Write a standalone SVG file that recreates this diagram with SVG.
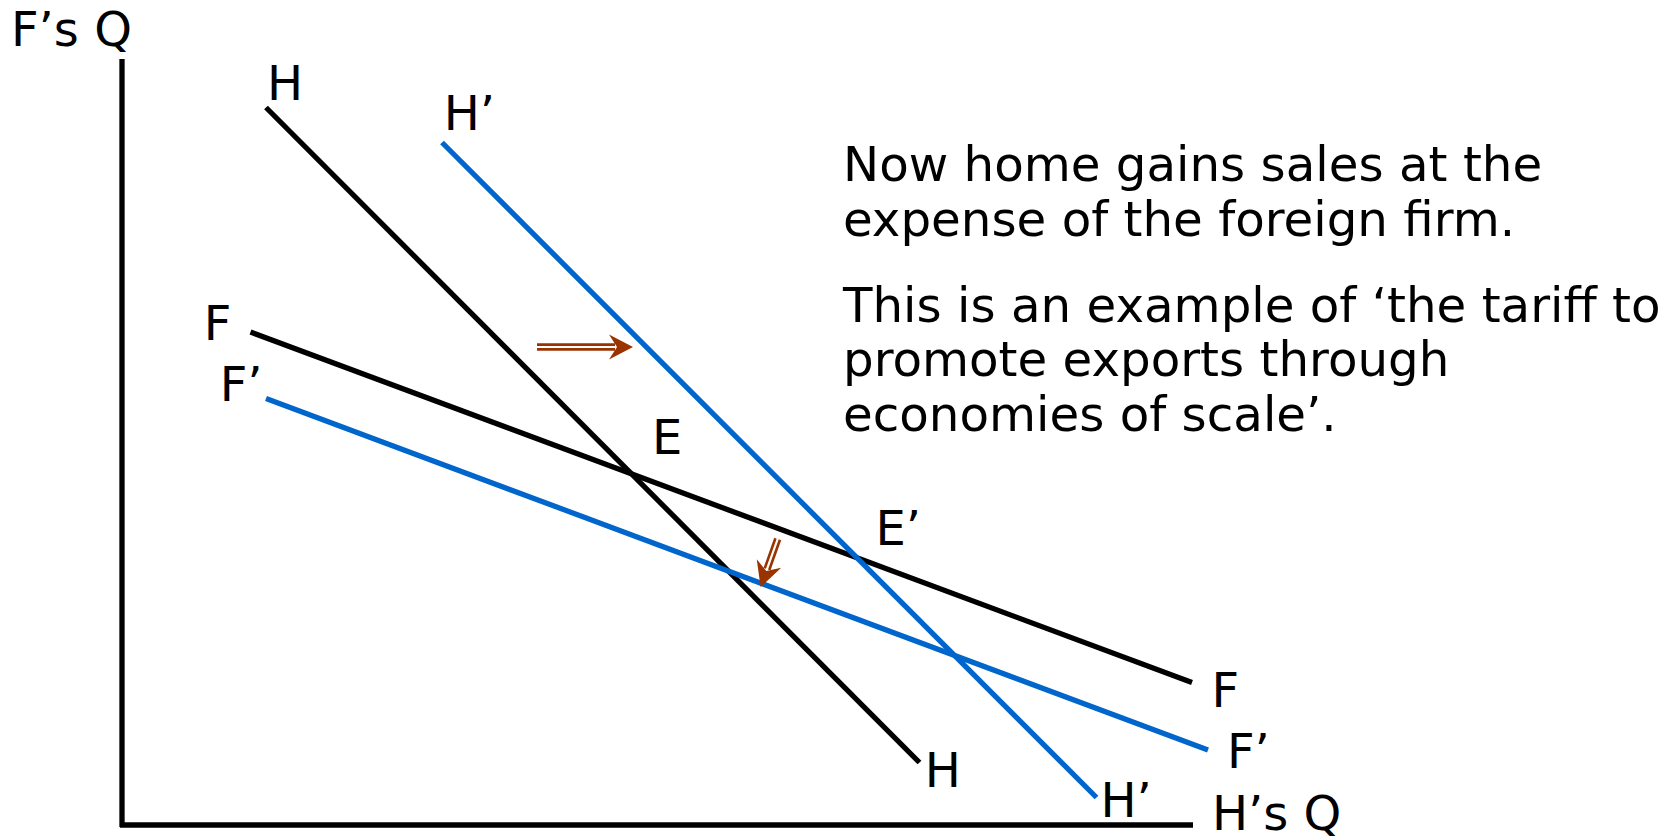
<svg xmlns="http://www.w3.org/2000/svg" width="1674" height="839" viewBox="0 0 1674 839">
<style>
text{font-family:"DejaVu Sans","Verdana",sans-serif;font-size:48px;fill:#000}
#note text{font-size:48.3px}
.blk{stroke:#000;stroke-width:5.3;fill:none}
.blu{stroke:#0066CC;stroke-width:5.3;fill:none}
.arr line{stroke:#993300;stroke-width:2.6}
.arr polygon{fill:#993300}
</style>
<rect width="1674" height="839" fill="#fff"/>
<g id="axes">
<line class="blk" x1="122" y1="59" x2="122" y2="827"/>
<line class="blk" x1="120" y1="825" x2="1193" y2="825"/>
<text x="11" y="46">F’s Q</text>
<text x="1212" y="830">H’s Q</text>
</g>
<g id="connectors">
<line id="H-curve" class="blk" x1="266" y1="107.5" x2="919.5" y2="762.5"/>
<line id="F-curve" class="blk" x1="250.5" y1="332" x2="1192" y2="682.5"/>
<line id="H2-curve" class="blu" x1="442" y1="142.5" x2="1096.5" y2="797.5"/>
<line id="F2-curve" class="blu" x1="266" y1="398.5" x2="1208" y2="750"/>
<g id="arrow-right" class="arr" transform="translate(537,347)">
<line x1="0" y1="-2.4" x2="78" y2="-2.4"/>
<line x1="0" y1="2.4" x2="78" y2="2.4"/>
<polygon points="96,0 72,-12.5 80,0 72,12.5"/>
</g>
<g id="arrow-down" class="arr" transform="translate(777.7,539) rotate(109.6)">
<line x1="0" y1="-2.4" x2="32" y2="-2.4"/>
<line x1="0" y1="2.4" x2="32" y2="2.4"/>
<polygon points="51,0 26,-13 34,0 26,13"/>
</g>
</g>
<g id="label-H-top"><text x="267" y="99.5">H</text></g>
<g id="label-H2-top"><text x="443.7" y="130">H’</text></g>
<g id="label-F-left"><text x="203.7" y="339.5">F</text></g>
<g id="label-F2-left"><text x="219.7" y="401">F’</text></g>
<g id="label-E"><text x="652" y="454.3">E</text></g>
<g id="label-E2"><text x="875.4" y="545">E’</text></g>
<g id="label-F-right"><text x="1211.4" y="706.7">F</text></g>
<g id="label-F2-right"><text x="1227" y="768.3">F’</text></g>
<g id="label-H-bottom"><text x="924.7" y="787.3">H</text></g>
<g id="label-H2-bottom"><text x="1100.4" y="817.3">H’</text></g>
<g id="note">
<text x="843" y="181">Now home gains sales at the</text>
<text x="843" y="236">expense of the foreign firm.</text>
<text x="843" y="321.5">This is an example of ‘the tariff to</text>
<text x="843" y="376">promote exports through</text>
<text x="843" y="430.5">economies of scale’.</text>
</g>
</svg>
